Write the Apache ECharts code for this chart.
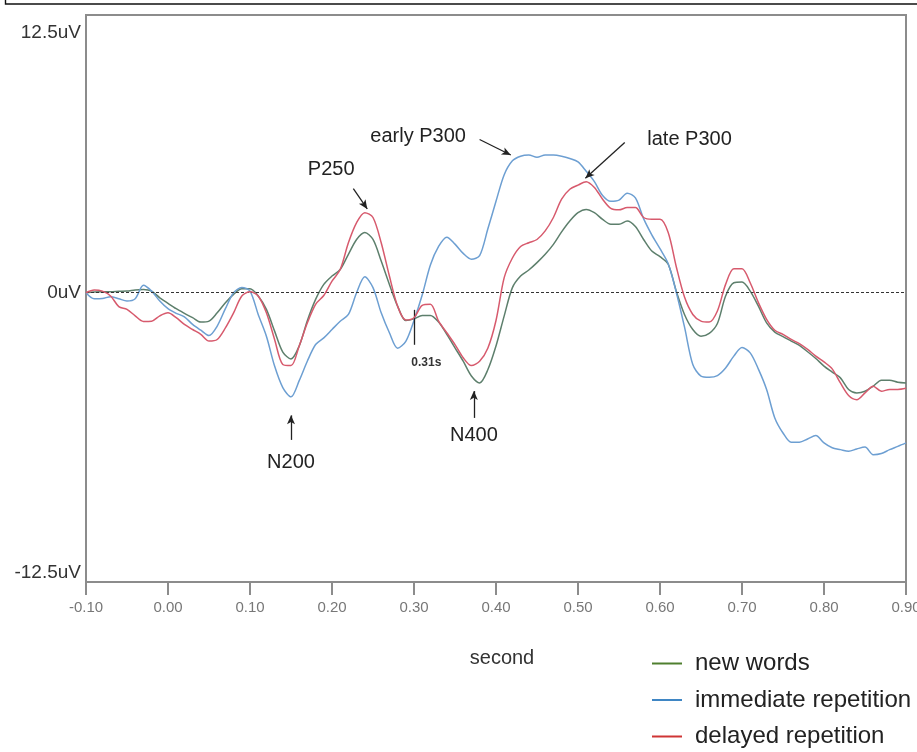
<!DOCTYPE html>
<html>
<head>
<meta charset="utf-8">
<script src="https://cdn.jsdelivr.net/npm/echarts@6/dist/echarts.min.js"></script>
<style>html,body{margin:0;padding:0;background:#fff}#c{width:917px;height:752px}</style>
</head>
<body>
<div id="c"></div>
<script>
// time in seconds
const times = [-0.10,-0.09,-0.08,-0.07,-0.06,-0.05,-0.04,-0.03,-0.02,-0.01,
 0.00,0.01,0.02,0.03,0.04,0.05,0.06,0.07,0.08,0.09,
 0.10,0.11,0.12,0.13,0.14,0.15,0.16,0.17,0.18,0.19,
 0.20,0.21,0.22,0.23,0.24,0.25,0.26,0.27,0.28,0.29,
 0.30,0.31,0.32,0.33,0.34,0.35,0.36,0.37,0.38,0.39,
 0.40,0.41,0.42,0.43,0.44,0.45,0.46,0.47,0.48,0.49,
 0.50,0.51,0.52,0.53,0.54,0.55,0.56,0.57,0.58,0.59,
 0.60,0.61,0.62,0.63,0.64,0.65,0.66,0.67,0.68,0.69,
 0.70,0.71,0.72,0.73,0.74,0.75,0.76,0.77,0.78,0.79,
 0.80,0.81,0.82,0.83,0.84,0.85,0.86,0.87,0.88,0.89,0.90];

// uV
const newWords = [0,0.03,0.04,0.04,0.06,0.07,0.12,0.14,0.07,-0.22,
 -0.46,-0.69,-0.89,-1.08,-1.27,-1.23,-0.87,-0.43,-0.07,0.17,
 0.17,-0.14,-0.72,-1.66,-2.57,-2.86,-2.3,-1.2,-0.29,0.36,
 0.72,1.0,1.66,2.3,2.6,2.3,1.37,0.36,-0.58,-1.2,
 -1.13,-0.98,-0.98,-1.27,-1.8,-2.38,-2.96,-3.6,-3.9,-3.33,
 -2.3,-1.0,0.22,0.72,0.98,1.3,1.66,2.09,2.63,3.1,
 3.46,3.6,3.46,3.17,2.96,2.96,3.1,2.86,2.3,1.8,
 1.56,1.23,0.05,-0.95,-1.59,-1.88,-1.76,-1.33,-0.14,0.43,
 0.46,0.07,-0.58,-1.3,-1.7,-1.9,-2.09,-2.28,-2.55,-2.84,
 -3.17,-3.43,-3.68,-4.18,-4.33,-4.26,-4.04,-3.78,-3.78,-3.87,-3.9];

const immediateRep = [0,-0.26,-0.25,-0.17,-0.26,-0.36,-0.26,0.32,0.07,-0.36,
 -0.69,-0.89,-1.04,-1.37,-1.62,-1.85,-1.44,-0.69,0,0.22,
 0.07,-0.94,-1.88,-3.17,-4.1,-4.5,-3.8,-2.95,-2.24,-1.95,
 -1.59,-1.23,-0.94,0,0.69,0.22,-0.87,-1.73,-2.4,-2.1,
 -1.2,-0.1,1.2,2.0,2.4,2.1,1.7,1.45,1.6,2.75,
 3.95,5.1,5.7,5.9,5.95,5.85,5.95,5.95,5.9,5.8,
 5.65,5.25,4.8,4.2,3.95,4.0,4.3,4.1,3.2,2.5,
 1.9,1.25,0.0,-1.5,-3.1,-3.6,-3.65,-3.58,-3.25,-2.74,
 -2.37,-2.6,-3.3,-4.18,-5.41,-6.06,-6.46,-6.46,-6.32,-6.17,
 -6.49,-6.7,-6.78,-6.85,-6.75,-6.67,-7.0,-6.95,-6.78,-6.64,-6.49];

const delayedRep = [0,0.12,0.07,-0.14,-0.6,-0.72,-1.0,-1.24,-1.23,-1.0,
 -0.87,-1.08,-1.37,-1.59,-1.8,-2.09,-2.02,-1.52,-0.87,-0.14,
 0.04,-0.14,-0.87,-2.02,-3.1,-3.15,-2.3,-1.3,-0.5,-0.12,
 0.5,1.0,2.16,3.03,3.46,3.25,2.16,0.72,-0.58,-1.18,
 -1.08,-0.55,-0.5,-1.23,-1.73,-2.24,-2.81,-3.15,-2.96,-2.4,
 -1.2,0.65,1.5,2.0,2.16,2.3,2.67,3.25,4.04,4.47,
 4.65,4.8,4.55,4.04,3.64,3.58,3.68,3.68,3.25,3.17,
 3.17,2.6,1.1,-0.2,-0.94,-1.23,-1.27,-0.79,0.36,1.04,
 1.04,0.43,-0.43,-1.15,-1.62,-1.8,-2.02,-2.2,-2.45,-2.74,
 -2.99,-3.29,-3.9,-4.44,-4.62,-4.33,-4.04,-4.26,-4.18,-4.18,-4.13];

const seriesNames = ['new words', 'immediate repetition', 'delayed repetition'];
const xTicks = [-0.1, 0.0, 0.1, 0.2, 0.3, 0.4, 0.5, 0.6, 0.7, 0.8, 0.9];
const yLabels = [-12.5, 0];
const yTopLabel = '12.5uV';

// annotation texts [t, uV, text]
const annoTexts = [
  [0.199, 5.32, 'P250'],
  [0.305, 6.75, 'early P300'],
  [0.636, 6.62, 'late P300'],
  [0.150, -7.32, 'N200'],
  [0.373, -6.15, 'N400']
];
const annoArrows = [
  [[0.226, 4.50], [0.243, 3.62]],
  [[0.380, 6.62], [0.418, 5.95]],
  [[0.557, 6.49], [0.509, 4.95]],
  [[0.150, -6.36], [0.150, -5.30]],
  [[0.373, -5.41], [0.373, -4.25]]
];
const markTime = 0.30;
const markTimeText = '0.31s';

const FONT = "'Liberation Sans', Arial, sans-serif";

const chart = echarts.init(document.getElementById('c'), null, {renderer: 'canvas'});
const lineColors = ['#5d7f6c', '#6d9fd2', '#d75a6d'];
const legendColors = ['#4f7f2f', '#3f86c4', '#cf3535'];
const dataSets = [newWords, immediateRep, delayedRep];

const series = dataSets.map((d, k) => ({
  name: seriesNames[k],
  type: 'line',
  data: times.map((t, i) => [t, d[i]]),
  showSymbol: false,
  smooth: 0.3,
  lineStyle: {width: 1.5, color: lineColors[k]},
  itemStyle: {color: lineColors[k]},
  z: 3 + k
}));

series[0].markLine = {
  silent: true, symbol: ['none', 'none'],
  lineStyle: {color: '#333', width: 1, type: [3, 2]},
  label: {show: false},
  data: [{yAxis: 0}]
};
series[2].markLine = {
  silent: true, symbol: ['none', 'arrow'], symbolSize: [6, 9],
  lineStyle: {color: '#222', width: 1.3, type: 'solid'},
  label: {show: false},
  data: annoArrows.map(a => [{coord: a[0]}, {coord: a[1]}])
};
series[1].markLine = {
  silent: true, symbol: ['none', 'none'],
  lineStyle: {color: '#222', width: 1.3, type: 'solid'},
  label: {show: false},
  data: [[{coord: [markTime, -0.74]}, {coord: [markTime, -2.25]}]]
};
series[1].markPoint = {
  silent: true, symbol: 'circle', symbolSize: 1,
  itemStyle: {color: 'rgba(0,0,0,0)'},
  data: annoTexts.map(a => ({
    coord: [a[0], a[1]], value: a[2],
    label: {show: true, position: 'inside', formatter: a[2], color: '#222', fontSize: 20, fontFamily: FONT}
  })).concat([{
    coord: [0.315, -3.03], value: markTimeText,
    label: {show: true, position: 'inside', formatter: markTimeText, color: '#333', fontSize: 12, fontWeight: 'bold', fontFamily: FONT}
  }])
};

chart.setOption({
  animation: false,
  backgroundColor: '#fff',
  grid: {left: 86, right: 11, top: 15, bottom: 170, outerBoundsMode: 'none', containLabel: false,
         show: true, borderColor: '#8c8c8c', borderWidth: 2, backgroundColor: 'transparent'},
  legend: {
    orient: 'vertical', left: 652, top: 651, padding: 0,
    itemWidth: 30, itemHeight: 2, icon: 'rect', itemGap: 11.5,
    textStyle: {fontSize: 24, color: '#222', fontFamily: FONT, lineHeight: 25, padding: [0, 0, 0, 8]},
    data: seriesNames.map((n, k) => ({name: n, itemStyle: {color: legendColors[k]}})),
    selectedMode: false
  },
  xAxis: {
    type: 'value', min: -0.1, max: 0.9, interval: 0.1,
    name: 'second', nameLocation: 'middle', nameGap: 66,
    nameTextStyle: {fontSize: 20, color: '#333', fontFamily: FONT, padding: [0, 0, 0, 12]},
    axisLine: {show: true, onZero: false, lineStyle: {color: '#8c8c8c', width: 2}},
    axisTick: {show: true, inside: false, length: 13, lineStyle: {color: '#8c8c8c', width: 2}},
    axisLabel: {
      margin: 18, fontSize: 15, color: '#777', fontFamily: FONT,
      customValues: xTicks,
      formatter: v => v.toFixed(2)
    },
    splitLine: {show: false}
  },
  yAxis: {
    type: 'value', min: -12.5, max: 12,
    name: yTopLabel, nameLocation: 'end', nameGap: -18,
    nameTextStyle: {fontSize: 19, color: '#333', fontFamily: FONT, align: 'right', verticalAlign: 'middle', padding: [0, 5, 0, 0]},
    axisLine: {show: true, onZero: false, lineStyle: {color: '#8c8c8c', width: 2}},
    axisTick: {show: false},
    axisLabel: {
      margin: 5, fontSize: 19, color: '#333', fontFamily: FONT,
      customValues: yLabels,
      verticalAlignMinLabel: 'bottom',
      formatter: v => v + 'uV'
    },
    splitLine: {show: false}
  },
  graphic: [
    {type: 'polyline', shape: {points: [[5.5, 0], [5.5, 4], [917, 4]]}, style: {stroke: '#111', lineWidth: 1.4, fill: null}, silent: true}
  ],
  series: series
});
</script>
</body>
</html>
